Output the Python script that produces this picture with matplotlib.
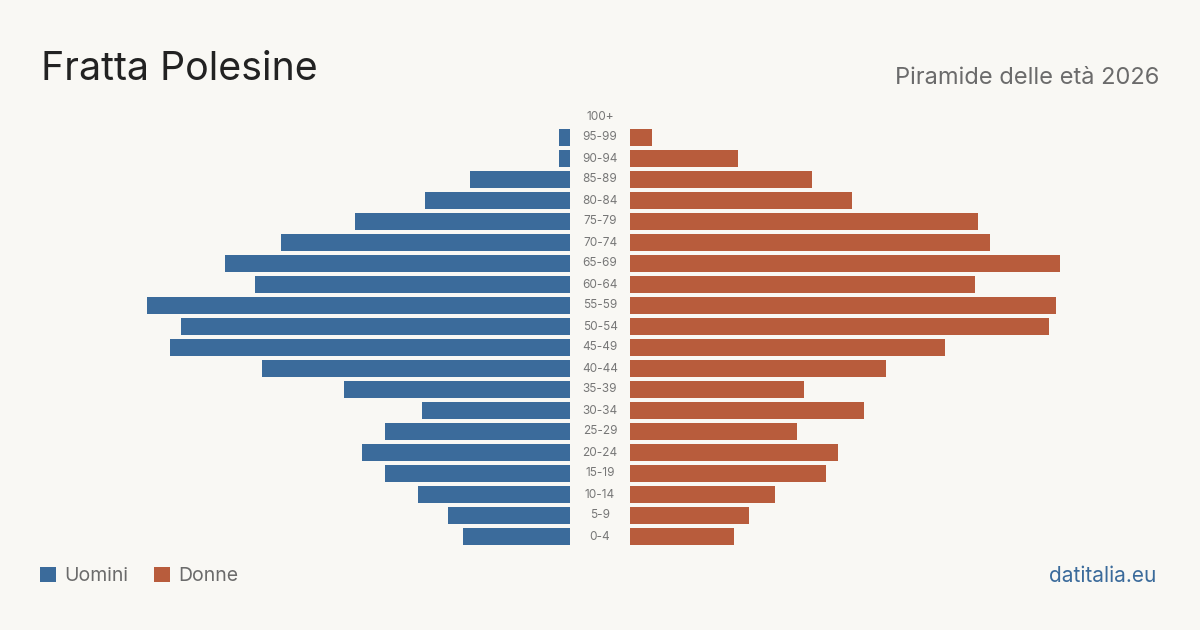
import matplotlib
matplotlib.use("Agg")
import matplotlib.pyplot as plt

plt.rcParams["font.family"] = ["Inter", "DejaVu Sans"]

# age classes, top to bottom as drawn
age_groups = ["100+", "95-99", "90-94", "85-89", "80-84", "75-79", "70-74", "65-69",
              "60-64", "55-59", "50-54", "45-49", "40-44", "35-39", "30-34", "25-29",
              "20-24", "15-19", "10-14", "5-9", "0-4"]
# values (relative units)
uomini = [0, 11, 11, 100, 145, 215, 289, 345, 315, 423, 389, 400, 308, 226, 148, 185,
          208, 185, 152, 122, 107]
donne = [0, 22, 108, 182, 222, 348, 360, 430, 345, 426, 419, 315, 256, 174, 234, 167,
         208, 196, 145, 119, 104]

BG = "#f9f8f4"
BLUE = "#3b6b9b"
ORANGE = "#b85c3c"
GREY = "#6b6b6b"

W, H = 1200, 630
fig = plt.figure(figsize=(12, 6.3), dpi=100, facecolor=BG)

scale_max = 430
row_top, row_bot = 106, 547
bottom = (H - row_bot) / H
height = (row_bot - row_top) / H

ax_m = fig.add_axes([(570 - scale_max) / W, bottom, scale_max / W, height])
ax_f = fig.add_axes([630 / W, bottom, scale_max / W, height])

n = len(age_groups)
ypos = list(range(n - 1, -1, -1))

bm = ax_m.barh(ypos, uomini, height=0.81, color=BLUE)
bf = ax_f.barh(ypos, donne, height=0.81, color=ORANGE)

ax_m.set_xlim(scale_max, 0)
ax_f.set_xlim(0, scale_max)
for ax in (ax_m, ax_f):
    ax.set_ylim(-0.5, n - 0.5)
    ax.axis("off")
    ax.set_facecolor(BG)

# age labels in the central gap
for label, y in zip(age_groups, ypos):
    ax_f.text(-30, y, label, ha="center", va="center", fontsize=8.5, color="#777777",
              clip_on=False)

fig.text(41 / W, 1 - 80 / H, "Fratta Polesine", fontsize=28.3, color="#222222",
         ha="left", va="baseline")
fig.text(1159 / W, 1 - 84 / H, "Piramide delle età 2026", fontsize=17, color=GREY,
         ha="right", va="baseline")
fig.text(1156 / W, 1 - 582 / H, "datitalia.eu", fontsize=15, color=BLUE,
         ha="right", va="baseline")

fig.legend([bm, bf], ["Uomini", "Donne"], loc="center left",
           bbox_to_anchor=(40 / W, 1 - 576 / H), ncol=2, frameon=False,
           handlelength=0.82, handleheight=0.82, fontsize=14, borderpad=0,
           borderaxespad=0, handletextpad=0.41, columnspacing=1.34, labelcolor=GREY)

fig.savefig("out.png", dpi=100, facecolor=BG)
